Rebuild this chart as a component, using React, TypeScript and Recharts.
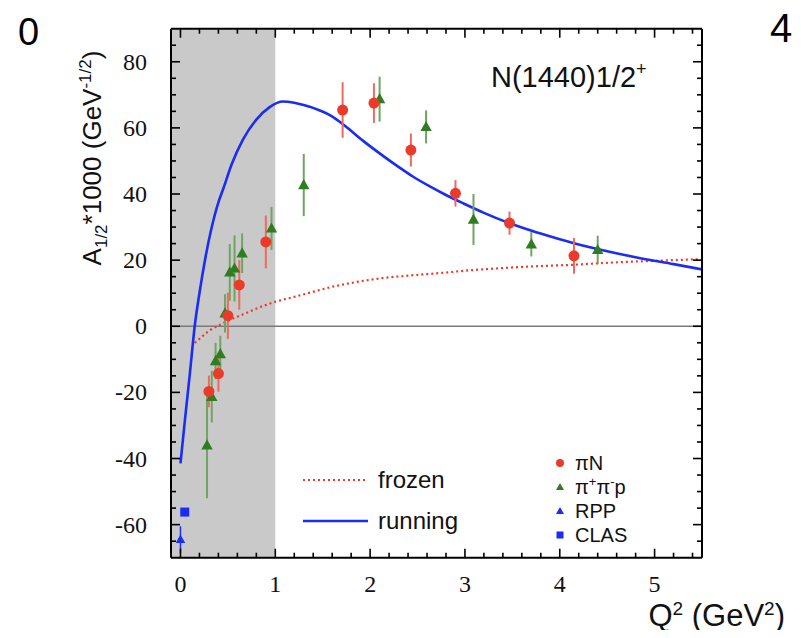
import {
  ComposedChart, Line, Scatter, ErrorBar, XAxis, YAxis,
  ReferenceArea, ReferenceLine,
} from 'recharts';

// Q^2 (GeV^2) vs A_1/2 * 1000
const piN = [
  { x: 0.30, y: -19.7, err: 4.8 },
  { x: 0.40, y: -14.3, err: 5.5 },
  { x: 0.50, y: 3.2, err: 7 },
  { x: 0.62, y: 12.5, err: 7.5 },
  { x: 0.90, y: 25.5, err: 8 },
  { x: 1.71, y: 65.4, err: 8.4 },
  { x: 2.04, y: 67.5, err: 6 },
  { x: 2.43, y: 53.3, err: 5 },
  { x: 2.90, y: 40.2, err: 4 },
  { x: 3.47, y: 31.2, err: 3.5 },
  { x: 4.15, y: 21.3, err: 5.4 },
];

const pipip = [
  { x: 0.28, y: -36, err: 16 },
  { x: 0.33, y: -21.3, err: 7.8 },
  { x: 0.37, y: -10.5, err: 5.5 },
  { x: 0.42, y: -8.4, err: 5.5 },
  { x: 0.47, y: 3.9, err: 5.8 },
  { x: 0.52, y: 16.3, err: 8.6 },
  { x: 0.57, y: 17.5, err: 10 },
  { x: 0.65, y: 22.1, err: 6 },
  { x: 0.96, y: 29.6, err: 6.5 },
  { x: 1.30, y: 42.7, err: 9.4 },
  { x: 2.10, y: 68.7, err: 6.8 },
  { x: 2.59, y: 60.3, err: 5 },
  { x: 3.09, y: 32.3, err: 7.7 },
  { x: 3.70, y: 24.8, err: 3.7 },
  { x: 4.40, y: 23.1, err: 4.3 },
];

const rpp = [{ x: 0, y: -64.5, err: 4 }];
const clas = [{ x: 0.045, y: -56.2 }];

const running = [
  { x: 0, y: -41.5 }, { x: 0.05, y: -27.5 }, { x: 0.1, y: -14 }, { x: 0.15, y: 0 },
  { x: 0.2, y: 10 }, { x: 0.26, y: 20.3 }, { x: 0.33, y: 30 }, { x: 0.4, y: 37.5 },
  { x: 0.45, y: 41.5 }, { x: 0.54, y: 49 }, { x: 0.66, y: 56.5 }, { x: 0.8, y: 62.5 },
  { x: 0.94, y: 66.3 }, { x: 1.08, y: 68 }, { x: 1.2, y: 67.6 }, { x: 1.3, y: 66.9 },
  { x: 1.45, y: 65.5 }, { x: 1.58, y: 63.8 }, { x: 1.71, y: 61.2 }, { x: 1.82, y: 58.6 },
  { x: 1.93, y: 56 }, { x: 2.1, y: 52.3 }, { x: 2.28, y: 48.6 }, { x: 2.45, y: 45.3 },
  { x: 2.63, y: 42.3 }, { x: 2.8, y: 39.7 }, { x: 2.98, y: 37.2 }, { x: 3.2, y: 34.3 },
  { x: 3.44, y: 31.5 }, { x: 3.6, y: 29.9 }, { x: 3.79, y: 28.1 }, { x: 4, y: 26.3 },
  { x: 4.14, y: 25.2 }, { x: 4.5, y: 22.7 }, { x: 4.85, y: 20.6 }, { x: 5.2, y: 18.8 },
  { x: 5.5, y: 17.2 },
];

const frozen = [
  { x: 0.15, y: -5 }, { x: 0.2, y: -3.8 }, { x: 0.31, y: -1.2 }, { x: 0.4, y: 0.2 },
  { x: 0.49, y: 1.5 }, { x: 0.66, y: 3.6 }, { x: 0.84, y: 5.8 }, { x: 1, y: 7.4 },
  { x: 1.2, y: 8.9 }, { x: 1.37, y: 10.2 }, { x: 1.58, y: 11.8 }, { x: 1.8, y: 13.1 },
  { x: 2.11, y: 14.5 }, { x: 2.4, y: 15.3 }, { x: 2.74, y: 16.1 }, { x: 3, y: 16.8 },
  { x: 3.4, y: 17.6 }, { x: 3.79, y: 18.2 }, { x: 4.14, y: 18.6 }, { x: 4.5, y: 19.2 },
  { x: 5, y: 19.8 }, { x: 5.5, y: 20.3 },
];

const X_MAJOR = [0, 1, 2, 3, 4, 5];
const X_MINOR = [0.2, 0.4, 0.6, 0.8, 1.2, 1.4, 1.6, 1.8, 2.2, 2.4, 2.6, 2.8, 3.2, 3.4, 3.6, 3.8,
  4.2, 4.4, 4.6, 4.8, 5.2, 5.4];
const Y_MAJOR = [-60, -40, -20, 0, 20, 40, 60, 80];
const Y_MINOR = [-65, -55, -50, -45, -35, -30, -25, -15, -10, -5, 5, 10, 15, 25, 30, 35,
  45, 50, 55, 65, 70, 75, 85];

const RED = '#ec3a2a';
const GREEN = '#2f7d22';
const BLUE = '#1b2cf5';
const SERIF = '"Liberation Serif", "Times New Roman", serif';
const SANS = '"Liberation Sans", Arial, sans-serif';

const tickLen = (major: boolean) => (major ? 9 : 5);

const bottomTick = (p: any) => {
  const v = p.payload.value;
  const major = X_MAJOR.includes(v);
  return (
    <g>
      <line x1={p.x} y1={p.y} x2={p.x} y2={p.y - tickLen(major)} stroke="#000" strokeWidth={1.6} />
      {major && (
        <text x={p.x} y={p.y + 34} textAnchor="middle" fontFamily={SERIF} fontSize={24} fill="#111">{v}</text>
      )}
    </g>
  );
};

const topTick = (p: any) => {
  const major = X_MAJOR.includes(p.payload.value);
  return <line x1={p.x} y1={p.y} x2={p.x} y2={p.y + tickLen(major)} stroke="#000" strokeWidth={1.6} />;
};

const leftTick = (p: any) => {
  const v = p.payload.value;
  const major = Y_MAJOR.includes(v);
  return (
    <g>
      <line x1={p.x} y1={p.y} x2={p.x + tickLen(major)} y2={p.y} stroke="#000" strokeWidth={1.6} />
      {major && (
        <text x={p.x - 24} y={p.y + 8} textAnchor="end" fontFamily={SERIF} fontSize={24} fill="#111">{v}</text>
      )}
    </g>
  );
};

const rightTick = (p: any) => {
  const major = Y_MAJOR.includes(p.payload.value);
  return <line x1={p.x} y1={p.y} x2={p.x - tickLen(major)} y2={p.y} stroke="#000" strokeWidth={1.6} />;
};

const circleShape = (p: any) => <circle cx={p.cx} cy={p.cy} r={5.5} fill={RED} />;
const triShape = (color: string, s: number) => (p: any) => (
  <path d={`M${p.cx},${p.cy - s} L${p.cx + s * 0.95},${p.cy + s * 0.7} L${p.cx - s * 0.95},${p.cy + s * 0.7} Z`} fill={color} />
);
const squareShape = (p: any) => <rect x={p.cx - 4.5} y={p.cy - 4.5} width={9} height={9} fill={BLUE} />;

const axisLine = { stroke: '#000', strokeWidth: 2 };

export default function App() {
  return (
    <div style={{ position: 'relative', width: 785, height: 622 }}>
      <ComposedChart width={785} height={622} margin={{ top: 19.7, right: 90, bottom: 32.3, left: 103 }}>
        <XAxis xAxisId={0} type="number" dataKey="x" domain={[-0.1, 5.5]} allowDataOverflow
          ticks={[...X_MAJOR, ...X_MINOR]} interval={0} height={40} tickLine={false} tickSize={0} tickMargin={0}
          axisLine={axisLine} tick={bottomTick} />
        <XAxis xAxisId="top" orientation="top" type="number" dataKey="x" domain={[-0.1, 5.5]} allowDataOverflow
          ticks={[...X_MAJOR, ...X_MINOR]} interval={0} height={1} tickLine={false} tickSize={0} tickMargin={0}
          axisLine={axisLine} tick={topTick} />
        <YAxis yAxisId={0} type="number" dataKey="y" domain={[-70, 90]} allowDataOverflow
          ticks={[...Y_MAJOR, ...Y_MINOR]} interval={0} width={60} tickLine={false} tickSize={0} tickMargin={0}
          axisLine={axisLine} tick={leftTick} />
        <YAxis yAxisId="right" orientation="right" type="number" domain={[-70, 90]} allowDataOverflow
          ticks={[...Y_MAJOR, ...Y_MINOR]} interval={0} width={1} tickLine={false} tickSize={0} tickMargin={0}
          axisLine={axisLine} tick={rightTick} />

        <ReferenceArea x1={-0.1} x2={1} y1={-70} y2={90} fill="#c9c9c9" fillOpacity={1} stroke="none" ifOverflow="hidden" />
        <ReferenceLine y={0} stroke="#7a7a7a" strokeWidth={1.5} />

        <Line data={frozen} dataKey="y" type="monotone" stroke={RED} strokeWidth={2.2}
          strokeDasharray="2 3" dot={false} isAnimationActive={false} />
        <Line data={running} dataKey="y" type="monotone" stroke={BLUE} strokeWidth={2.6}
          dot={false} isAnimationActive={false} />

        <Scatter data={pipip} dataKey="y" shape={triShape(GREEN, 6)} isAnimationActive={false}>
          <ErrorBar dataKey="err" direction="y" width={0} stroke="#6fa462" strokeWidth={2} />
        </Scatter>
        <Scatter data={piN} dataKey="y" shape={circleShape} isAnimationActive={false}>
          <ErrorBar dataKey="err" direction="y" width={0} stroke="#ef6a5c" strokeWidth={2} />
        </Scatter>
        <Scatter data={rpp} dataKey="y" shape={triShape(BLUE, 5)} isAnimationActive={false}>
          <ErrorBar dataKey="err" direction="y" width={0} stroke={BLUE} strokeWidth={1.5} />
        </Scatter>
        <Scatter data={clas} dataKey="y" shape={squareShape} isAnimationActive={false} />
      </ComposedChart>

      <svg width={785} height={622} style={{ position: 'absolute', left: 0, top: 0, pointerEvents: 'none', overflow: 'visible' }}>
        <text x={10} y={37} fontFamily={SANS} fontSize={38} fill="#000">0</text>
        <text x={762} y={34} fontFamily={SANS} fontSize={40} fill="#000">4</text>

        <text x={483} y={79} fontFamily={SANS} fontSize={29} fill="#111">
          N(1440)1/2<tspan fontSize={18} dy={-12}>+</tspan>
        </text>

        <text x={93} y={150} transform="rotate(-90 93 150)" textAnchor="middle" fontFamily={SANS} fontSize={26} fill="#111">
          A<tspan fontSize={17} dy={6}>1/2</tspan>
          <tspan dy={-6}>*1000 (GeV</tspan>
          <tspan fontSize={17} dy={-10}>-1/2</tspan>
          <tspan dy={10}>)</tspan>
        </text>

        <text x={777} y={618} textAnchor="end" fontFamily={SANS} fontSize={31} fill="#111">
          Q<tspan fontSize={19} dy={-11}>2</tspan>
          <tspan dy={11}> (GeV</tspan>
          <tspan fontSize={19} dy={-11}>2</tspan>
          <tspan dy={11}>)</tspan>
        </text>

        <line x1={295} y1={472} x2={360} y2={472} stroke={RED} strokeWidth={2} strokeDasharray="2 3" />
        <text x={370} y={480} fontFamily={SANS} fontSize={24} fill="#111">frozen</text>
        <line x1={295} y1={513} x2={360} y2={513} stroke={BLUE} strokeWidth={2.6} />
        <text x={370} y={521} fontFamily={SANS} fontSize={24} fill="#111">running</text>

        <circle cx={552} cy={455} r={4} fill={RED} />
        <text x={567} y={462} fontFamily={SANS} fontSize={20} fill="#111">πN</text>
        <path d="M552,475 L556,482 L548,482 Z" fill={GREEN} />
        <text x={567} y={486} fontFamily={SANS} fontSize={20} fill="#111">
          π<tspan fontSize={13} dy={-8}>+</tspan><tspan dy={8}>π</tspan><tspan fontSize={13} dy={-8}>-</tspan><tspan dy={8}>p</tspan>
        </text>
        <path d="M552,499 L556,506 L548,506 Z" fill={BLUE} />
        <text x={567} y={510} fontFamily={SANS} fontSize={20} fill="#111">RPP</text>
        <rect x={548.5} y={523.5} width={7} height={7} fill={BLUE} />
        <text x={567} y={534} fontFamily={SANS} fontSize={20} fill="#111">CLAS</text>
      </svg>
    </div>
  );
}
